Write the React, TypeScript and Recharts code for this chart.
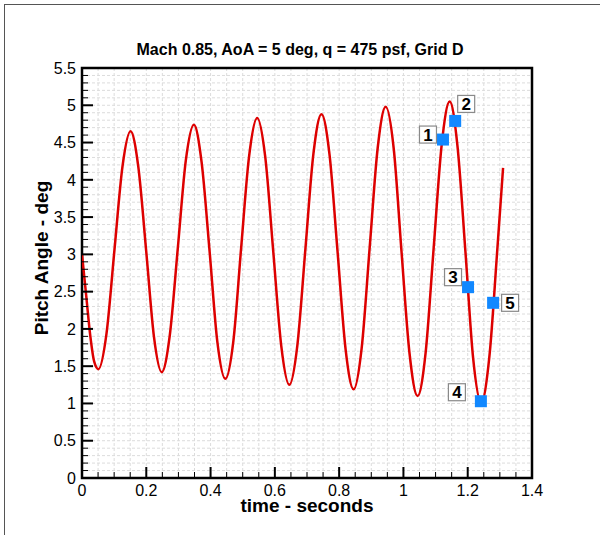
import React from 'react';
import { ComposedChart, Line, Scatter, XAxis, YAxis, CartesianGrid, ReferenceArea } from 'recharts';

// pitch history
const timeSec = [
  0, 0.013, 0.026, 0.038, 0.051,
  0.076, 0.101, 0.126, 0.151,
  0.175, 0.2, 0.224, 0.248,
  0.273, 0.298, 0.323, 0.348,
  0.372, 0.397, 0.421, 0.446,
  0.471, 0.495, 0.52, 0.545,
  0.57, 0.595, 0.62, 0.645,
  0.67, 0.695, 0.72, 0.745,
  0.77, 0.795, 0.82, 0.845,
  0.87, 0.895, 0.92, 0.945,
  0.97, 0.994, 1.019, 1.044,
  1.069, 1.094, 1.119, 1.144,
  1.168, 1.193, 1.217, 1.242,
  1.267, 1.292, 1.31,
];
const pitchDeg = [
  3.0, 2.45, 1.9, 1.56, 1.46,
  1.93, 3.06, 4.18, 4.65,
  4.18, 3.03, 1.89, 1.42,
  1.91, 3.08, 4.26, 4.74,
  4.24, 3.04, 1.83, 1.33,
  1.84, 3.08, 4.32, 4.83,
  4.31, 3.04, 1.77, 1.25,
  1.78, 3.07, 4.35, 4.88,
  4.34, 3.04, 1.73, 1.19,
  1.74, 3.09, 4.43, 4.98,
  4.41, 3.04, 1.67, 1.1,
  1.68, 3.08, 4.47, 5.05,
  4.46, 3.03, 1.6, 1.01,
  1.61, 3.06, 4.16,
];

const markerTime = [1.123, 1.161, 1.201, 1.241, 1.279];
const markerPitch = [4.54, 4.79, 2.56, 1.03, 2.35];
const markerLabels = ['1', '2', '3', '4', '5'];

const xTicks = Array.from({ length: 29 }, (_, i) => +(i * 0.05).toFixed(2));
const yTicks = Array.from({ length: 56 }, (_, i) => +(i * 0.1).toFixed(1));

// where each numbered box sits relative to its marker (px)
const labelOffsets: Record<string, [number, number]> = {
  '1': [-15, -5],
  '2': [11, -17],
  '3': [-15, -10],
  '4': [-24, -9],
  '5': [17, 0],
};

const curveData = timeSec.map((t, i) => ({ t, v: pitchDeg[i] }));
const markerData = markerTime.map((t, i) => ({ t, v: markerPitch[i], label: markerLabels[i] }));

const FONT = '"Liberation Sans", Arial, Helvetica, sans-serif';
const TICK_MARGIN = 12;

const isMajor = (v: number, step: number) => Math.abs(v / step - Math.round(v / step)) < 1e-6;

const XTick = (props: any) => {
  const { x, y, payload } = props;
  const v = payload.value;
  const major = isMajor(v, 0.2);
  const ay = y - TICK_MARGIN;
  return (
    <g>
      <line x1={x} y1={ay} x2={x} y2={ay - (major ? 11 : 6)} stroke="#000" strokeWidth={major ? 2 : 1} />
      {major && (
        <text x={x} y={ay + 18} textAnchor="middle" fontSize={16} fontFamily={FONT} fill="#000">
          {String(v)}
        </text>
      )}
    </g>
  );
};

const YTick = (props: any) => {
  const { x, y, payload } = props;
  const v = payload.value;
  const major = isMajor(v, 0.5);
  const ax = x + TICK_MARGIN;
  return (
    <g>
      <line x1={ax} y1={y} x2={ax + (major ? 11 : 6)} y2={y} stroke="#000" strokeWidth={major ? 2 : 1} />
      {major && (
        <text x={ax - 6} y={y + 5.7} textAnchor="end" fontSize={16} fontFamily={FONT} fill="#000">
          {String(v)}
        </text>
      )}
    </g>
  );
};

const MarkerShape = (props: any) => {
  const { cx, cy, payload } = props;
  const [dx, dy] = labelOffsets[payload.label];
  const s = 12;
  const b = 17;
  return (
    <g>
      <rect x={cx - s / 2} y={cy - s / 2} width={s} height={s} fill="#1188ff" />
      <rect x={cx + dx - b / 2} y={cy + dy - b / 2} width={b} height={b} fill="#fff" stroke="#8a8a8a" strokeWidth={1.2} />
      <text x={cx + dx} y={cy + dy + 6} textAnchor="middle" fontSize={17} fontWeight="bold" fontFamily={FONT} fill="#000">
        {payload.label}
      </text>
    </g>
  );
};

const App: React.FC = () => {
  return (
    <div style={{ position: 'absolute', left: 0, top: 0, width: 600, height: 535, background: '#fff', fontFamily: FONT }}>
      <div style={{ position: 'absolute', left: 4, top: 4, right: 0, bottom: 0, borderLeft: '1px solid #555', borderTop: '1px solid #555' }} />
      <ComposedChart width={600} height={535} margin={{ top: 68, right: 68, bottom: 27, left: 22 }}>
        <CartesianGrid stroke="#dcdcdc" strokeDasharray="3 2" />
        <XAxis
          dataKey="t"
          type="number"
          domain={[0, 1.4]}
          ticks={xTicks}
          interval={0}
          height={30}
          axisLine={false}
          tickLine={false}
          tickSize={0}
          tickMargin={TICK_MARGIN}
          tick={<XTick />}
          allowDataOverflow
        />
        <YAxis
          type="number"
          domain={[0, 5.5]}
          ticks={yTicks}
          interval={0}
          width={60}
          axisLine={false}
          tickLine={false}
          tickSize={0}
          tickMargin={TICK_MARGIN}
          tick={<YTick />}
          allowDataOverflow
        />
        <ReferenceArea x1={0} x2={1.4} y1={0} y2={5.5} fill="none" fillOpacity={0} stroke="#000" strokeWidth={2.5} ifOverflow="visible" />
        <Line data={curveData} dataKey="v" type="monotone" stroke="#dd0000" strokeWidth={2.5} dot={false} activeDot={false} isAnimationActive={false} />
        <Scatter data={markerData} dataKey="v" shape={<MarkerShape />} isAnimationActive={false} />
      </ComposedChart>
      <div style={{ position: 'absolute', left: 0, width: 600, top: 41, lineHeight: '18px', textAlign: 'center', fontSize: 16, fontWeight: 'bold' }}>
        Mach 0.85, AoA = 5 deg, q = 475 psf, Grid D
      </div>
      <div style={{ position: 'absolute', left: 207, width: 200, top: 499, lineHeight: '14px', textAlign: 'center', fontSize: 19, fontWeight: 'bold' }}>
        time - seconds
      </div>
      <div style={{ position: 'absolute', left: 42, top: 258, width: 240, marginLeft: -120, marginTop: -10, height: 20, lineHeight: '20px', textAlign: 'center', fontSize: 19, fontWeight: 'bold', transform: 'rotate(-90deg)' }}>
        Pitch Angle - deg
      </div>
    </div>
  );
};

export default App;
